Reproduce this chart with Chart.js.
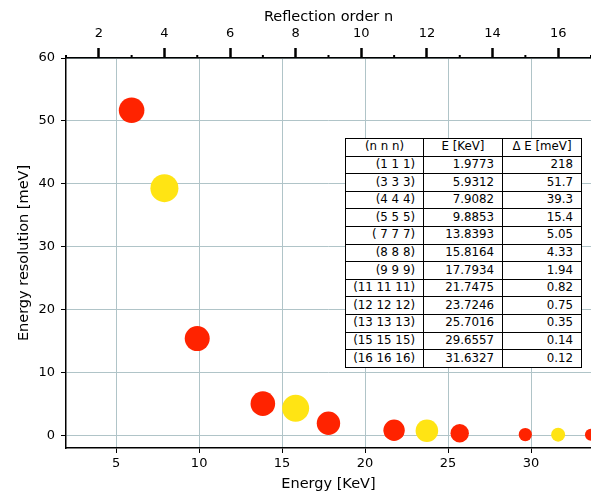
<!DOCTYPE html>
<html>
<head>
<meta charset="utf-8">
<script src="https://cdn.jsdelivr.net/npm/chart.js@4.4.0/dist/chart.umd.min.js"></script>
<style>
  body { margin: 0; background: #fff; }
  #wrap { position: relative; width: 591px; height: 493px; }
  #resTable {
    position: absolute; left: 345px; top: 138px;
    border-collapse: collapse; table-layout: fixed; width: 237px;
    font: 11.8px "DejaVu Sans", sans-serif; color: #000; background: #fff;
  }
  #resTable td {
    border: 1.5px solid #000; height: 16.6px; padding: 0 8px 0 0;
    text-align: right; white-space: pre; line-height: 1;
  }
  #resTable tr.head td { text-align: center; padding: 0; }
</style>
</head>
<body>
<div id="wrap">
  <canvas id="chart" width="591" height="493"></canvas>
  <table id="resTable">
    <colgroup><col style="width:78px"><col style="width:79px"><col style="width:79px"></colgroup>
  </table>
</div>
<script>
// table contents
const tableHeader = ['(n n n)', 'E [KeV]', '\u0394 E [meV]'];
const hklLabels = ['(1 1 1)', '(3 3 3)', '(4 4 4)', '(5 5 5)', '( 7 7 7)', '(8 8 8)', '(9 9 9)',
                   '(11 11 11)', '(12 12 12)', '(13 13 13)', '(15 15 15)', '(16 16 16)'];
const tableEnergy = ['1.9773', '5.9312', '7.9082', '9.8853', '13.8393', '15.8164', '17.7934',
                     '21.7475', '23.7246', '25.7016', '29.6557', '31.6327'];
const tableResolution = ['218', '51.7', '39.3', '15.4', '5.05', '4.33', '1.94',
                         '0.82', '0.75', '0.35', '0.14', '0.12'];

// plotted points (n = 1 is off the scale, n = 17 sits on the right edge)
const order = [3, 4, 5, 7, 8, 9, 11, 12, 13, 15, 16, 17];
const energy = [5.9312, 7.9082, 9.8853, 13.8393, 15.8164, 17.7934, 21.7475, 23.7246, 25.7016, 29.6557, 31.6327, 33.61];
const resolution = [51.7, 39.3, 15.4, 5.05, 4.33, 1.94, 0.82, 0.75, 0.35, 0.14, 0.12, 0.1];
const bubbleSize = [12.8, 14, 12.5, 12.3, 13.5, 11.7, 10.7, 11.3, 9.2, 6.6, 7, 6];

const energyTicks = [5, 10, 15, 20, 25, 30];
const resolutionTicks = [0, 10, 20, 30, 40, 50, 60];
const orderTicks = [2, 4, 6, 8, 10, 12, 14, 16];
const orderMinorTicks = [1, 3, 5, 7, 9, 11, 13, 15, 17];
const E1 = 1.9773; // energy of (1 1 1)

const red = '#ff2300';
const yellow = '#ffe414';
const gridColor = '#b0c4c8';

// fill the table
const tbl = document.getElementById('resTable');
function addRow(cells, cls) {
    const tr = document.createElement('tr');
    if (cls) tr.className = cls;
    cells.forEach(c => {
        const td = document.createElement('td');
        td.textContent = c;
        tr.appendChild(td);
    });
    tbl.appendChild(tr);
}
addRow(tableHeader, 'head');
hklLabels.forEach((h, i) => addRow([h, tableEnergy[i], tableResolution[i]]));

// small ticks at odd reflection orders on the top axis
const minorTicks = {
    id: 'minorTicks',
    afterDraw(chart) {
        const s = chart.scales.x2;
        const ctx = chart.ctx;
        ctx.save();
        ctx.strokeStyle = '#000';
        ctx.lineWidth = 2;
        orderMinorTicks.forEach(n => {
            const px = s.getPixelForValue(n);
            ctx.beginPath();
            ctx.moveTo(px, s.bottom);
            ctx.lineTo(px, s.bottom - 3);
            ctx.stroke();
        });
        ctx.restore();
    }
};

Chart.defaults.font.family = '"DejaVu Sans", sans-serif';
Chart.defaults.color = '#000';

var ctx = document.getElementById('chart').getContext('2d');
var myChart = new Chart(ctx, {
    type: 'bubble',
    data: {
        datasets: [{
            data: energy.map((e, i) => ({ x: e, y: resolution[i], r: bubbleSize[i] })),
            backgroundColor: order.map(n => n % 4 === 0 ? yellow : red),
            borderWidth: 0,
            clip: 0
        }]
    },
    options: {
        responsive: false,
        animation: false,
        layout: { padding: 0, autoPadding: false },
        plugins: {
            legend: { display: false },
            tooltip: { enabled: false }
        },
        scales: {
            x: {
                type: 'linear',
                position: 'bottom',
                min: E1,
                max: 17 * E1,
                afterBuildTicks: s => { s.ticks = energyTicks.map(v => ({ value: v })); },
                afterFit: s => { s.height = 45; s.paddingLeft = 0; s.paddingRight = 0; },
                grid: { color: gridColor, lineWidth: 1, tickColor: '#000', tickLength: 5, tickWidth: 1 },
                border: { color: '#000', width: 1.5 },
                ticks: { font: { size: 13 }, padding: 3, maxRotation: 0 },
                title: { display: true, text: 'Energy [KeV]', font: { size: 14.5 }, padding: { top: 0, bottom: 0 } }
            },
            x2: {
                type: 'linear',
                position: 'top',
                min: 1,
                max: 17,
                afterBuildTicks: s => { s.ticks = orderTicks.map(v => ({ value: v })); },
                afterFit: s => { s.height = 58; s.paddingLeft = 0; s.paddingRight = 0; },
                grid: { drawOnChartArea: false, tickColor: '#000', tickLength: 10, tickWidth: 2.5 },
                border: { color: '#000', width: 1.5 },
                ticks: { font: { size: 13 }, padding: 7, maxRotation: 0 },
                title: { display: true, text: 'Reflection order n', font: { size: 14.5 }, padding: { top: 9, bottom: 0 } }
            },
            y: {
                type: 'linear',
                min: -2,
                max: 60,
                afterBuildTicks: s => { s.ticks = resolutionTicks.map(v => ({ value: v })); },
                afterFit: s => { s.width = 66; s.paddingTop = 0; s.paddingBottom = 0; },
                grid: { color: gridColor, lineWidth: 1, tickColor: '#000', tickLength: 5, tickWidth: 1 },
                border: { color: '#000', width: 1.5 },
                ticks: { font: { size: 13 }, padding: 6 },
                title: { display: true, text: 'Energy resolution [meV]', font: { size: 14.5 }, padding: { top: 16, bottom: 0 } }
            }
        }
    },
    plugins: [minorTicks]
});
</script>
</body>
</html>
